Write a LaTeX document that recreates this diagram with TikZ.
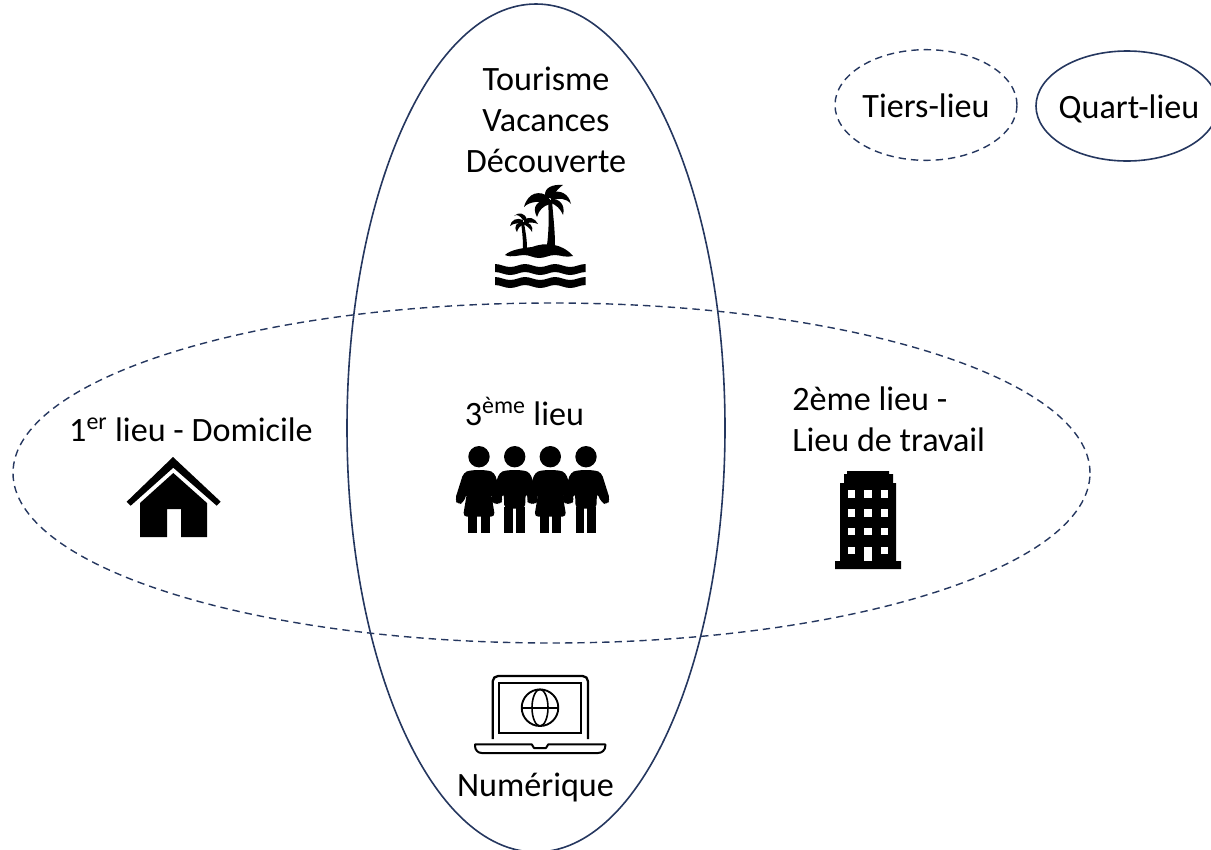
\documentclass[tikz,border=0pt]{standalone}
\usepackage{fontspec}
\setmainfont{Carlito}
\usetikzlibrary{shapes.geometric}
\definecolor{lieublue}{HTML}{25375F}
\tikzset{
  lieu/.style={draw=lieublue,ellipse,line width=1.2pt,inner sep=0pt,outer sep=0pt},
  tiers/.style={lieu,line width=1.05pt,dash pattern=on 5.5pt off 3.8pt},
  lieutext/.style={font=\fontsize{25.6}{31}\selectfont,inner sep=0pt,text=black},
  woman/.pic={
    \fill (0,0) circle (10.7);
    \fill[rounded corners=3] (-9,13.5) -- (9,13.5) -- (15.5,16) -- (24,43) -- (21,48) -- (15.5,46) -- (12,36) -- (16,60) -- (-16,60) -- (-12,36) -- (-15.5,46) -- (-21,48) -- (-24,43) -- (-15.5,16) -- cycle;
    \fill (-10.8,58) rectangle (-1.8,76.7);
    \fill (1.8,58) rectangle (10.8,76.7);
  },
  man/.pic={
    \fill (0,0) circle (10.7);
    \fill[rounded corners=3] (-9,13.5) -- (9,13.5) -- (15.5,16) -- (24,43) -- (21,48) -- (15.5,46) -- (11,36) -- (10.3,52) -- (-10.3,52) -- (-11,36) -- (-15.5,46) -- (-21,48) -- (-24,43) -- (-15.5,16) -- cycle;
    \fill (-10.3,50) rectangle (-2,76.7);
    \fill (1.3,50) rectangle (10.3,76.7);
  },
}
\begin{document}
\begin{tikzpicture}[x=.75pt,y=-.75pt]
\useasboundingbox (0,0) rectangle (1211,850);
% ellipses
\node[lieu,minimum width=283.5pt,minimum height=636pt] (voyage) at (536,428) {};
\node[tiers,minimum width=807.75pt,minimum height=255pt] (travail) at (551.5,473) {};
\node[tiers,minimum width=136.5pt,minimum height=83pt] (tierslieu) at (926,105) {};
\node[lieu,minimum width=136.5pt,minimum height=82.5pt] (quartlieu) at (1127,106) {};
% labels
\node[lieutext,align=center] (tourisme) at (546,120) {Tourisme\\Vacances\\Découverte};
\node[lieutext] (domicile) at (191,430) {1\textsuperscript{er} lieu - Domicile};
\node[lieutext] (troisieme) at (524.5,411) {3\textsuperscript{ème} lieu};
\node[lieutext,align=left,anchor=west] (deuxieme) at (792,419) {2ème lieu -\\Lieu de travail};
\node[lieutext] (numerique) at (535.5,787) {Numérique};
\node[lieutext] (tierstext) at (926,106) {Tiers-lieu};
\node[lieutext] (quarttext) at (1129,109) {Quart-lieu};
% house
\fill (173,457) -- (220.7,501.7) -- (216.7,505.7) -- (173.3,467.7) -- (130.7,505.7) -- (126.7,501.7) -- cycle;
\fill (173.3,473) -- (207,503) -- (207,537) -- (181,537) -- (181,509) -- (167,509) -- (167,537) -- (140,537) -- (140,503) -- cycle;
% building
\fill (847,471) -- (889,471) -- (889,474) -- (893,474) -- (893,483) -- (896,483) -- (896,561) -- (901,561) -- (901,569) -- (835,569) -- (835,561) -- (840,561) -- (840,483) -- (844,483) -- (844,474) -- (847,474) -- cycle;
\foreach \wx in {851.7,868,884.7}
  \foreach \wy in {494,513,531.7}
    \fill[white] (\wx-3.7,\wy-3.7) rectangle (\wx+3.7,\wy+3.7);
\foreach \wx in {851.7,884.7}
  \fill[white] (\wx-3.7,547) rectangle (\wx+3.7,554.4);
\fill[white] (864.4,547) rectangle (871.6,561);
% people
\pic at (479,456.7) {woman};
\pic at (514.7,456.7) {man};
\pic at (550.3,456.7) {woman};
\pic at (586,456.7) {man};
% laptop
\draw[line width=1.7pt,rounded corners=4] (492.7,739) -- (492.7,676) -- (588,676) -- (588,739);
\draw[line width=1.7pt] (499.3,683) rectangle (580.7,732.7);
\draw[line width=1.4pt] (540,707.7) circle (18.3);
\draw[line width=1.2pt] (540,707.7) ellipse (8 and 18.3);
\draw[line width=1.2pt] (521.7,707.7) -- (558.3,707.7);
\draw[line width=1.5pt,line join=round] (475,744.3) -- (531.7,744.3) -- (534,748) -- (546,748) -- (548.3,744.3) -- (605.3,744.3) -- (605.3,746) .. controls (605.3,750) and (602,753) .. (598,753) -- (481.7,753) .. controls (478,753) and (475,750) .. (475,746) -- cycle;
% island
\foreach \wy in {264,277}
  \fill (495,\wy)
    .. controls (500,\wy) and (505,\wy+3) .. (510,\wy+3)
    .. controls (516,\wy+3) and (520,\wy) .. (525,\wy)
    .. controls (530,\wy) and (535,\wy+3) .. (540,\wy+3)
    .. controls (546,\wy+3) and (550,\wy) .. (555,\wy)
    .. controls (560,\wy) and (565,\wy+3) .. (570,\wy+3)
    .. controls (576,\wy+3) and (580,\wy) .. (585.7,\wy)
    -- (585.7,\wy+8)
    .. controls (580,\wy+8) and (576,\wy+11) .. (570,\wy+11)
    .. controls (565,\wy+11) and (560,\wy+8) .. (555,\wy+8)
    .. controls (550,\wy+8) and (546,\wy+11) .. (540,\wy+11)
    .. controls (535,\wy+11) and (530,\wy+8) .. (525,\wy+8)
    .. controls (520,\wy+8) and (516,\wy+11) .. (510,\wy+11)
    .. controls (505,\wy+11) and (500,\wy+8) .. (495,\wy+8) -- cycle;
\fill (505,255) .. controls (510,250) and (522,248) .. (532,247) .. controls (545,242) and (562,243) .. (573,256)
  .. controls (566,258) and (560,255) .. (555,255) .. controls (549,255) and (545,258) .. (539,258) .. controls (533,258) and (530,255) .. (524,255) .. controls (518,255) and (512,258) .. (505,255) -- cycle;
% palms
\fill (547,245) .. controls (549,230) and (549,215) .. (548,200) -- (552,200) .. controls (553,215) and (555,230) .. (555,245) -- cycle;
\fill (523,248) .. controls (523,238) and (522,230) .. (521,222) -- (524,222) .. controls (525,230) and (527,238) .. (527,248) -- cycle;
\fill (549,197) .. controls (540,190) and (528,192) .. (524,207) .. controls (530,201) and (540,201) .. (549,203) -- cycle;
\fill (550,199) .. controls (538,200) and (531,206) .. (537,217) .. controls (539,210) and (543,206) .. (550,204) -- cycle;
\fill (545,196) .. controls (544,188) and (552,184) .. (563,185) .. controls (560,187) and (556,190) .. (552,199) -- cycle;
\fill (551,193) .. controls (560,189) and (569,194) .. (571,204) .. controls (566,198) and (560,198) .. (551,200) -- cycle;
\fill (551,199) .. controls (558,198) and (566,204) .. (563,215) .. controls (560,208) and (556,205) .. (551,203) -- cycle;
\fill (523,220) .. controls (520,215) and (516,214) .. (514,216) .. controls (518,212) and (525,212) .. (527,220) -- cycle;
\fill (523,220) .. controls (517,217) and (511,220) .. (510,226) .. controls (514,223) and (518,223) .. (523,224) -- cycle;
\fill (523,222) .. controls (517,222) and (513,226) .. (517,232) .. controls (518,228) and (520,226) .. (524,224) -- cycle;
\fill (524,220) .. controls (529,216) and (535,218) .. (538,224) .. controls (533,222) and (529,222) .. (524,224) -- cycle;
\fill (524,222) .. controls (529,222) and (534,226) .. (532,232) .. controls (530,228) and (527,226) .. (523,224) -- cycle;
\end{tikzpicture}
\end{document}
